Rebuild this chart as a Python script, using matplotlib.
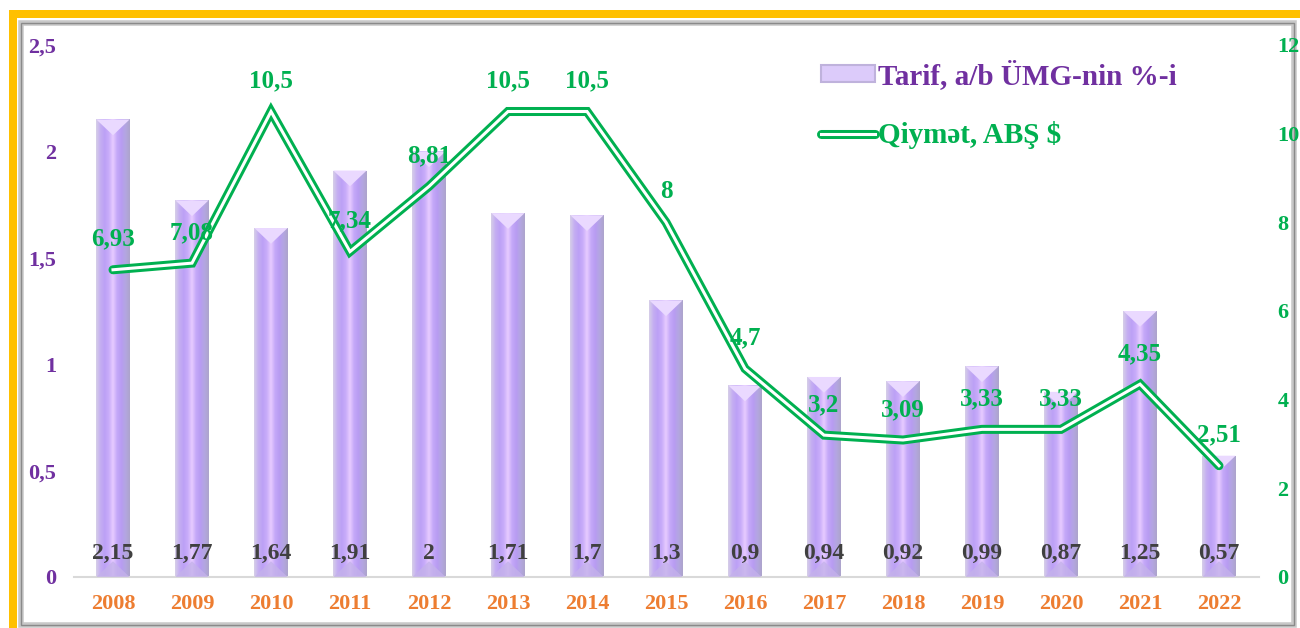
import numpy as np
import matplotlib
matplotlib.use('Agg')
import matplotlib.pyplot as plt
from matplotlib.patches import Rectangle, Polygon, Patch
from matplotlib.lines import Line2D
from matplotlib.colors import LinearSegmentedColormap
from matplotlib.legend_handler import HandlerTuple

years = ['2008', '2009', '2010', '2011', '2012', '2013', '2014', '2015',
         '2016', '2017', '2018', '2019', '2020', '2021', '2022']
tarif = [2.15, 1.77, 1.64, 1.91, 2.0, 1.71, 1.70, 1.30, 0.90, 0.94, 0.92, 0.99, 0.87, 1.25, 0.57]
qiymet = [6.93, 7.08, 10.5, 7.34, 8.81, 10.5, 10.5, 8.0, 4.7, 3.2, 3.09, 3.33, 3.33, 4.35, 2.51]
left_ticks = [0, 0.5, 1, 1.5, 2, 2.5]
right_ticks = [0, 2, 4, 6, 8, 10, 12]

PURPLE = '#7030A0'
GREEN = '#00B050'
ORANGE = '#ED7D31'
DARK = '#404040'

plt.rcParams['font.family'] = ['Liberation Serif', 'DejaVu Serif']
plt.rcParams['font.weight'] = 'bold'

W, H = 1300, 628
fig = plt.figure(figsize=(W / 100, H / 100), dpi=100)
fig.patch.set_facecolor('white')


def fx(px):
    return px / W


def fy(py):
    return 1 - py / H


# frame: gold edge (left/top) and grey bevel
fig.add_artist(Rectangle((fx(9), 0), fx(8), fy(10), transform=fig.transFigure,
                         facecolor='#FFC000', edgecolor='none', zorder=0))
fig.add_artist(Rectangle((fx(9), fy(18)), 1 - fx(9), 8 / H, transform=fig.transFigure,
                         facecolor='#FFC000', edgecolor='none', zorder=0))
fig.add_artist(Rectangle((fx(21), fy(625)), fx(1273), (625 - 23) / H, transform=fig.transFigure,
                         facecolor='none', edgecolor='#C8C8C8', lw=4, zorder=0))
fig.add_artist(Rectangle((fx(21), fy(625)), fx(1273), (625 - 23) / H, transform=fig.transFigure,
                         facecolor='none', edgecolor='#8A8A8A', lw=1, zorder=0))

ax = fig.add_axes([fx(73.5), fy(577), fx(1185), (577 - 45) / H])
ax.set_facecolor('none')
x = np.arange(len(years))
w = 0.42

bar_cmap = LinearSegmentedColormap.from_list('bar', [
    '#D6CEE8', '#C4AEF2', '#BCA0F6', '#C8ACFA', '#E8CCFF', '#C4A8F8',
    '#B89CF2', '#B4A6E2', '#ADA4CC'])
grad = np.linspace(0, 1, 64).reshape(1, -1)

bars = ax.bar(x, tarif, width=w, color='none', edgecolor='none', zorder=2)
px_x = 1185 / len(years)
px_y = 532 / 2.5
bev = (w / 2) * px_x / px_y * 0.95
for b, xi, h in zip(bars, x, tarif):
    im = ax.imshow(grad, cmap=bar_cmap, aspect='auto',
                   extent=[xi - w / 2, xi + w / 2, 0, h], zorder=2)
    im.set_clip_path(b)
    ax.add_patch(Polygon([[xi - w / 2, h], [xi + w / 2, h], [xi, h - bev]],
                         closed=True, facecolor='#EAD9FF', edgecolor='none', zorder=3))
    ax.add_patch(Polygon([[xi - w / 2, h], [xi - w / 2 + 0.03, h - 0.01], [xi, h - bev]],
                         closed=True, facecolor='#F3E6FF', edgecolor='none', zorder=3))
    ax.add_patch(Polygon([[xi - w / 2, 0], [xi + w / 2, 0], [xi, bev]],
                         closed=True, facecolor='#C4B2EA', edgecolor='none', alpha=0.8, zorder=3))
    ax.annotate(f'{h:g}'.replace('.', ','), (xi, 0), xytext=(0, 17), textcoords='offset points',
                ha='center', va='center', fontsize=17, color=DARK, fontweight='bold', zorder=6)

ax.set_xlim(-0.5, len(years) - 0.5)
ax.set_ylim(0, 2.5)
ax.set_yticks(left_ticks)
ax.set_yticklabels([f'{t:g}'.replace('.', ',') for t in left_ticks])
ax.set_xticks(x)
ax.set_xticklabels(years)
ax.tick_params(axis='y', length=0, pad=12.5, labelsize=16, labelcolor=PURPLE)
ax.tick_params(axis='x', length=0, pad=12, labelsize=16, labelcolor=ORANGE)
for s in ['top', 'right', 'left']:
    ax.spines[s].set_visible(False)
ax.spines['bottom'].set_color('#D9D9D9')
ax.spines['bottom'].set_linewidth(1.5)

ax2 = ax.twinx()
ax2.set_ylim(0, 12)
ax2.set_yticks(right_ticks)
ax2.tick_params(axis='y', length=0, pad=13.5, labelsize=16, labelcolor=GREEN)
for s in ax2.spines.values():
    s.set_visible(False)

l1, = ax2.plot(x, qiymet, color=GREEN, lw=6.5, solid_joinstyle='miter',
               solid_capstyle='round', zorder=4)
l2, = ax2.plot(x, qiymet, color='white', lw=2.2, solid_joinstyle='miter', zorder=5)
for xi, v in zip(x, qiymet):
    ax2.annotate(f'{v:g}'.replace('.', ','), (xi, v), xytext=(0, 22), textcoords='offset points',
                 ha='center', va='center', fontsize=18, color=GREEN, fontweight='bold', zorder=6)

bar_handle = Patch(facecolor='#DCCBFA', edgecolor='#BFB2DC', lw=1.5)
line_a = Line2D([], [], color=GREEN, lw=6.5, solid_capstyle='round')
line_b = Line2D([], [], color='white', lw=2.2)
leg = fig.legend([bar_handle, (line_a, line_b)], ['Tarif, a/b ÜMG-nin %-i', 'Qiymət, ABŞ $'],
                 handler_map={tuple: HandlerTuple(ndivide=1)},
                 loc='upper left', bbox_to_anchor=(fx(821), fy(60)), frameon=False,
                 prop={'family': ['Liberation Serif', 'DejaVu Serif'], 'weight': 'bold', 'size': 21},
                 handlelength=1.85, handleheight=0.5, handletextpad=0.12, labelspacing=1.08,
                 borderpad=0, borderaxespad=0)
for t, c in zip(leg.get_texts(), [PURPLE, GREEN]):
    t.set_color(c)

fig.savefig('out.png', dpi=100, facecolor=fig.get_facecolor())
